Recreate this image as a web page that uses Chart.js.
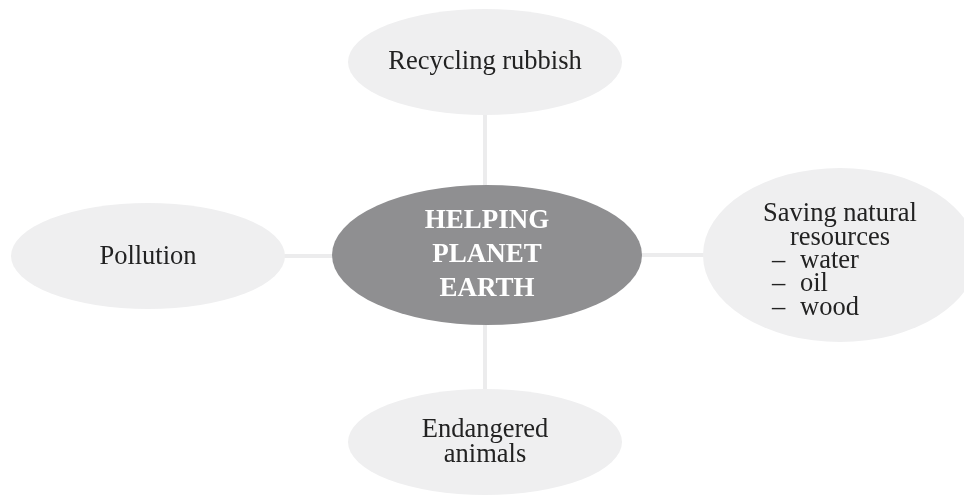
<!DOCTYPE html>
<html>
<head>
<meta charset="utf-8">
<script src="https://cdn.jsdelivr.net/npm/chart.js@4/dist/chart.umd.min.js"></script>
<style>
  html, body { margin: 0; padding: 0; background: #ffffff; }
  #wrap { width: 964px; height: 496px; position: relative; }
</style>
</head>
<body>
<div id="wrap"><canvas id="mindMap"></canvas></div>
<script>
// node data (diagram units, same scale as the page)
var nodeNames = ['center', 'recycling', 'saving', 'pollution', 'endangered'];
var nodeX = [487, 485, 840, 148, 485];
var nodeY = [255, 62, 255, 256, 442];
var nodeLines = [
    ['HELPING', 'PLANET', 'EARTH'],
    ['Recycling rubbish'],
    ['Saving natural', 'resources', '\u2013 water', '\u2013 oil', '\u2013 wood'],
    ['Pollution'],
    ['Endangered', 'animals']
];
// edges from the centre node to the others
var edgeFrom = [0, 0, 0, 0];
var edgeTo = [1, 2, 3, 4];

// look of each node
var nodeStyle = [
    { rx: 155, ry: 70, fill: '#8f8f91', color: '#ffffff', font: 'bold 27px "Liberation Serif", serif', lh: 34, dy: 0 },
    { rx: 137, ry: 53, fill: '#efeff0', color: '#222222', font: '26.5px "Liberation Serif", serif', lh: 25, dy: 0 },
    { rx: 137, ry: 87, fill: '#efeff0', color: '#222222', font: '26.5px "Liberation Serif", serif', lh: 23.3, dy: 6 },
    { rx: 137, ry: 53, fill: '#efeff0', color: '#222222', font: '26.5px "Liberation Serif", serif', lh: 25, dy: 1 },
    { rx: 137, ry: 53, fill: '#efeff0', color: '#222222', font: '26.5px "Liberation Serif", serif', lh: 25, dy: 1 }
];

var canvas = document.getElementById('mindMap');
var ctx = canvas.getContext('2d');

var datasets = [];
for (var i = 0; i < edgeFrom.length; i++) {
    var a = edgeFrom[i], b = edgeTo[i];
    var ax = nodeX[a], ay = nodeY[a];
    // keep the connector straight: vertical edges share x, horizontal share y
    var vertical = Math.abs(nodeX[b] - ax) < 10;
    datasets.push({
        label: 'edge' + i,
        data: [{ x: vertical ? nodeX[b] : ax, y: vertical ? ay : nodeY[b] }, { x: nodeX[b], y: nodeY[b] }],
        showLine: true,
        borderColor: '#ececed',
        borderWidth: 4,
        pointRadius: 0
    });
}
datasets.push({
    label: 'nodes',
    data: nodeX.map(function (x, i) { return { x: x, y: nodeY[i] }; }),
    pointRadius: 0,
    showLine: false
});

// ellipses and their texts, drawn with the chart scales
var nodesPlugin = {
    id: 'nodes',
    afterDatasetsDraw: function (chart) {
        var c = chart.ctx, xs = chart.scales.x, ys = chart.scales.y;
        for (var i = 0; i < nodeX.length; i++) {
            var s = nodeStyle[i];
            var cx = xs.getPixelForValue(nodeX[i]);
            var cy = ys.getPixelForValue(nodeY[i]);
            var rx = Math.abs(xs.getPixelForValue(nodeX[i] + s.rx) - cx);
            var ry = Math.abs(ys.getPixelForValue(nodeY[i] + s.ry) - cy);
            c.save();
            c.beginPath();
            c.ellipse(cx, cy, rx, ry, 0, 0, Math.PI * 2);
            c.fillStyle = s.fill;
            c.fill();
            c.fillStyle = s.color;
            c.font = s.font;
            c.textBaseline = 'middle';
            var lines = nodeLines[i];
            var top = cy + s.dy - (lines.length - 1) * s.lh / 2;
            lines.forEach(function (t, k) {
                var y = top + k * s.lh;
                if (t.charAt(0) === '\u2013') {
                    c.textAlign = 'left';
                    c.fillText('\u2013', cx - 68, y);
                    c.fillText(t.slice(2), cx - 40, y);
                } else {
                    c.textAlign = 'center';
                    c.fillText(t, cx, y);
                }
            });
            c.restore();
        }
    }
};

new Chart(ctx, {
    type: 'scatter',
    data: { datasets: datasets },
    options: {
        responsive: true,
        maintainAspectRatio: false,
        animation: false,
        layout: { padding: 0 },
        scales: {
            x: { type: 'linear', min: 0, max: 964, display: false },
            y: { type: 'linear', min: 0, max: 496, reverse: true, display: false }
        },
        plugins: {
            legend: { display: false },
            tooltip: { enabled: false }
        }
    },
    plugins: [nodesPlugin]
});
</script>
</body>
</html>
